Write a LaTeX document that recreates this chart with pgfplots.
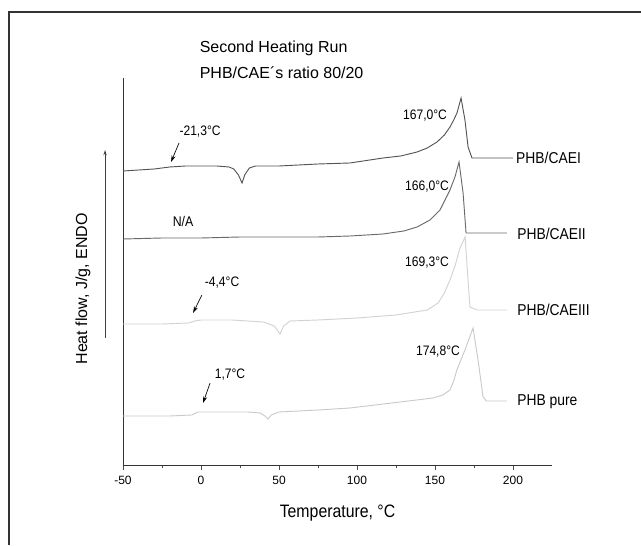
\documentclass[border=0pt]{standalone}
\usepackage{pgfplots}
\pgfplotsset{compat=1.18}
\usepackage{fontspec}
\setmainfont{Liberation Sans}
\newfontfamily\cond{Liberation Sans}[FakeStretch=0.88]
\usetikzlibrary{arrows.meta}
\definecolor{cI}{HTML}{555555}
\definecolor{cII}{HTML}{6A6A6A}
\definecolor{cIII}{HTML}{D2D2D2}
\definecolor{cP}{HTML}{CACACA}
\definecolor{frame}{HTML}{333333}
\begin{document}
\begin{tikzpicture}
\useasboundingbox (0,0) rectangle (480.75pt,408.75pt);
\draw[frame, line width=0.8pt] (6.75pt,0) -- (6.75pt,399.75pt) -- (480.75pt,399.75pt);
\begin{axis}[
  at={(92.25pt,60pt)}, anchor=south west,
  scale only axis, width=321.75pt, height=290.25pt,
  xmin=-50, xmax=225, ymin=0, ymax=387,
  axis x line*=bottom, axis y line*=left,
  axis line style={line width=0.6pt, color=black!80},
  xtick={-50,0,50,100,150,200},
  xticklabels={-50,0,50,100,150,200},
  minor xtick={-25,25,75,125,175},
  ytick=\empty,
  tick align=outside,
  major tick length=4pt, minor tick length=2.5pt,
  tick style={color=black!70, line width=0.5pt},
  xticklabel style={font=\fontsize{9}{10}\selectfont, yshift=-1pt},
  xlabel={Temperature, °C},
  xlabel style={font=\cond\fontsize{13.5}{15}\selectfont, at={(axis description cs:0.5,0)}, anchor=center, yshift=-36pt},
  ylabel={Heat flow, J/g, ENDO},
  ylabel style={font=\fontsize{12}{14}\selectfont, at={(axis description cs:-0.0932,0.455)}, anchor=center},
  clip=false,
]
% PHB/CAEI
\addplot[cI, line width=0.7pt] coordinates {
(-50,294) (-40,295) (-30,296) (-20,298) (-10,299) (0,299) (10,299) (18,298)
(21,296) (24,290) (26.3,282) (28,290) (31,297) (35,299) (50,299) (75,301)
(95.5,302) (116.7,307) (128,309) (138.5,313) (145,317) (151.3,323) (156,330)
(159.6,338) (162,345) (164.1,352) (166.7,367) (169.2,345) (171.2,318)
(173.7,307) (180,307) (200,307)};
% PHB/CAEII
\addplot[cII, line width=0.7pt] coordinates {
(-50,226) (-25,227) (0,227) (25,228) (50,228) (75,228) (95.5,229) (116.7,231)
(130,234) (138.5,238) (146.8,245) (153.2,255) (159.6,275) (162.8,288)
(165.4,303) (168,272) (169.9,232) (172,232) (196,232)};
% PHB/CAEIII
\addplot[cIII, line width=0.7pt] coordinates {
(-50,141) (-25,141) (-8,142) (-4,144) (0,145) (20,145) (40,143) (47,139)
(50.6,131) (53,139) (57,144) (75,145) (100,147) (125,150) (145,155) (152,162)
(156,172) (159.6,185) (163,200) (166,217) (169.3,228) (170.5,200) (172.4,158)
(177,155) (196,155)};
% PHB pure
\addplot[cP, line width=0.7pt] coordinates {
(-50,49) (-20,49) (-6,50) (-2,53) (10,53) (30,53) (38,52) (41,49) (43,46)
(45,50) (50,53) (75,55) (95.5,57) (127.6,63) (148.7,67) (155,70) (159.6,75)
(162,84) (164,95) (169.2,115) (174.4,137) (177.6,105) (180.8,68) (183,64)
(196,64)};
% title
\node[anchor=west, font=\fontsize{12}{14}\selectfont] at (axis cs:-3.8,417) {Second Heating Run};
\node[anchor=west, font=\fontsize{12}{14}\selectfont] at (axis cs:-3.8,392) {PHB/CAE´s ratio 80/20};
% annotations
\node[font=\cond\fontsize{10.3}{11}\selectfont] at (axis cs:-0.6,333) {-21,3°C};
\node[font=\cond\fontsize{10.3}{11}\selectfont] at (axis cs:143.6,349) {167,0°C};
\node[font=\cond\fontsize{10.3}{11}\selectfont] at (axis cs:144.9,278) {166,0°C};
\node[font=\cond\fontsize{10.5}{11}\selectfont] at (axis cs:-11.5,243) {N/A};
\node[font=\cond\fontsize{10.3}{11}\selectfont] at (axis cs:144.9,202) {169,3°C};
\node[font=\cond\fontsize{10.3}{11}\selectfont] at (axis cs:13.5,182) {-4,4°C};
\node[font=\cond\fontsize{10.3}{11}\selectfont] at (axis cs:18.6,90) {1,7°C};
\node[font=\cond\fontsize{10.3}{11}\selectfont] at (axis cs:151.9,113) {174,8°C};
% series labels
\node[anchor=west, inner sep=0pt, font=\cond\fontsize{11.8}{13}\selectfont] at (axis cs:201.9,307) {PHB/CAEI};
\node[anchor=west, inner sep=0pt, font=\cond\fontsize{11.8}{13}\selectfont] at (axis cs:202.6,231) {PHB/CAEII};
\node[anchor=west, inner sep=0pt, font=\cond\fontsize{11.8}{13}\selectfont] at (axis cs:202.6,155) {PHB/CAEIII};
\node[anchor=west, inner sep=0pt, font=\cond\fontsize{11.8}{13}\selectfont] at (axis cs:202.6,63) {PHB pure};
% arrows
\draw[black, line width=0.5pt, -{Stealth[length=5pt,width=3pt]}] (axis cs:-14.1,322) -- (axis cs:-19.2,303);
\draw[black, line width=0.5pt, -{Stealth[length=5pt,width=3pt]}] (axis cs:0.6,170) -- (axis cs:-5.1,152);
\draw[black, line width=0.5pt, -{Stealth[length=5pt,width=3pt]}] (axis cs:5.8,82) -- (axis cs:1.3,62);
\draw[black!75, line width=0.6pt, -{Stealth[length=4pt,width=2.5pt]}] (axis cs:-61.5,127) -- (axis cs:-61.5,315);
\end{axis}
\end{tikzpicture}
\end{document}
